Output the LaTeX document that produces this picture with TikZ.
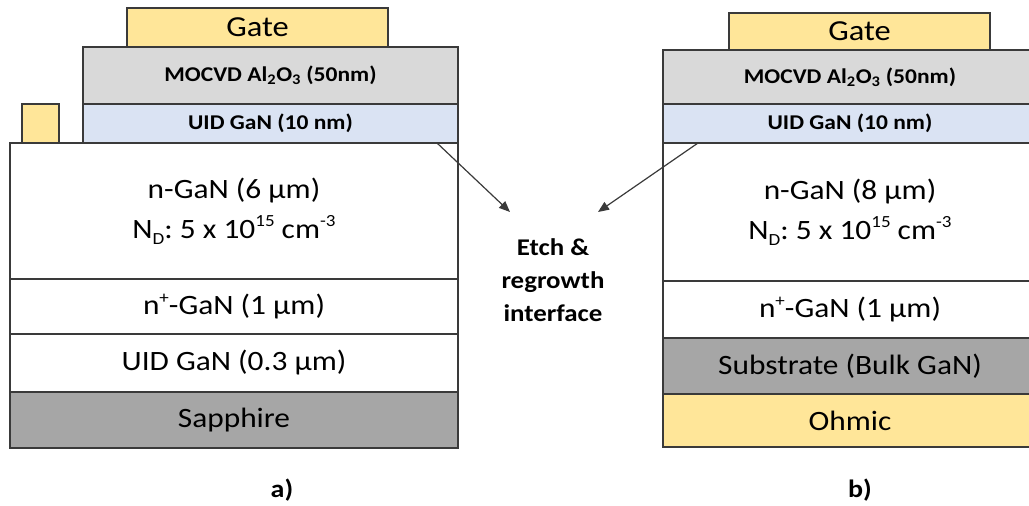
\documentclass[tikz,border=0pt]{standalone}
\usepackage{fontspec}
\setmainfont{Carlito}[FakeStretch=1.12]
\usetikzlibrary{arrows.meta}
\frenchspacing
\definecolor{gold}{HTML}{FFE699}
\definecolor{oxide}{HTML}{D9D9D9}
\definecolor{uidblue}{HTML}{DAE3F3}
\definecolor{subgrey}{HTML}{A6A6A6}
\definecolor{edgegrey}{HTML}{3A3A3A}
\newcommand{\myup}[1]{\raisebox{0.42em}{\fontsize{17}{17}\selectfont #1}}
\newcommand{\mydown}[1]{\raisebox{-0.2em}{\fontsize{17}{17}\selectfont #1}}
\tikzset{
  layer/.style={draw=edgegrey, line width=1.5pt, inner sep=0pt, outer sep=0pt,
    anchor=north west, align=center, text=black},
  bigtext/.style={font=\fontsize{28}{40}\selectfont},
  gatetext/.style={font=\fontsize{29}{34}\selectfont},
  smallbold/.style={font=\bfseries\fontsize{21}{25}\selectfont},
  labeltext/.style={font=\bfseries\fontsize{24}{33}\selectfont, align=center},
  pointer/.style={draw=edgegrey, line width=1.2pt, -{Triangle[length=11pt,width=9pt]}}
}
\begin{document}
\begin{tikzpicture}[x=1pt,y=-1pt]
\useasboundingbox (0,0) rectangle (1029,506);
\clip (0,0) rectangle (1029,506);
% ---- device a)
\node[layer, fill=gold, gatetext, minimum width=261pt, minimum height=39pt] (gateA) at (127,8) {Gate};
\node[layer, fill=oxide, smallbold, minimum width=375pt, minimum height=57pt] (oxA) at (83,47) {MOCVD Al\textsubscript{2}O\textsubscript{3} (50nm)};
\node[layer, fill=uidblue, smallbold, minimum width=375pt, minimum height=39pt] (capA) at (83,104) {UID GaN (10 nm)};
\node[layer, fill=gold, minimum width=37pt, minimum height=39pt] (padA) at (22,104) {};
\node[layer, fill=white, bigtext, minimum width=448pt, minimum height=136pt] (nA) at (10,143) {n-GaN (6 µm)\\N\mydown{D}: 5 x 10\myup{15} cm\myup{-3}};
\node[layer, fill=white, bigtext, minimum width=448pt, minimum height=55pt] (npA) at (10,279) {n\myup{+}-GaN (1 µm)};
\node[layer, fill=white, bigtext, minimum width=448pt, minimum height=58pt] (uA) at (10,334) {UID GaN (0.3 µm)};
\node[layer, fill=subgrey, bigtext, minimum width=448pt, minimum height=56pt] (sapA) at (10,392) {Sapphire};
% ---- device b)
\node[layer, fill=gold, gatetext, minimum width=261pt, minimum height=37pt] (gateB) at (729,13) {Gate};
\node[layer, fill=oxide, smallbold, minimum width=374pt, minimum height=54pt] (oxB) at (663,50) {MOCVD Al\textsubscript{2}O\textsubscript{3} (50nm)};
\node[layer, fill=uidblue, smallbold, minimum width=374pt, minimum height=39pt] (capB) at (663,104) {UID GaN (10 nm)};
\node[layer, fill=white, bigtext, minimum width=374pt, minimum height=138pt] (nB) at (663,143) {n-GaN (8 µm)\\N\mydown{D}: 5 x 10\myup{15} cm\myup{-3}};
\node[layer, fill=white, bigtext, minimum width=374pt, minimum height=57pt] (npB) at (663,281) {n\myup{+}-GaN (1 µm)};
\node[layer, fill=subgrey, bigtext, minimum width=374pt, minimum height=56pt] (subB) at (663,338) {Substrate (Bulk GaN)};
\node[layer, fill=gold, bigtext, minimum width=374pt, minimum height=53pt] (ohmB) at (663,394) {Ohmic};
% ---- middle label and arrows
\node[labeltext] (etch) at (553,280) {Etch \&\\regrowth\\interface};
\coordinate (startA) at (437,143);
\coordinate (tipA) at (510,212);
\coordinate (startB) at (698,143);
\coordinate (tipB) at (598,212);
\draw[pointer] (startA) -- (tipA);
\draw[pointer] (startB) -- (tipB);
% ---- captions
\node[labeltext, font=\bfseries\fontsize{25}{33}\selectfont] (capa) at (282,490) {a)};
\node[labeltext, font=\bfseries\fontsize{25}{33}\selectfont] (capb) at (860,490) {b)};
\end{tikzpicture}
\end{document}
